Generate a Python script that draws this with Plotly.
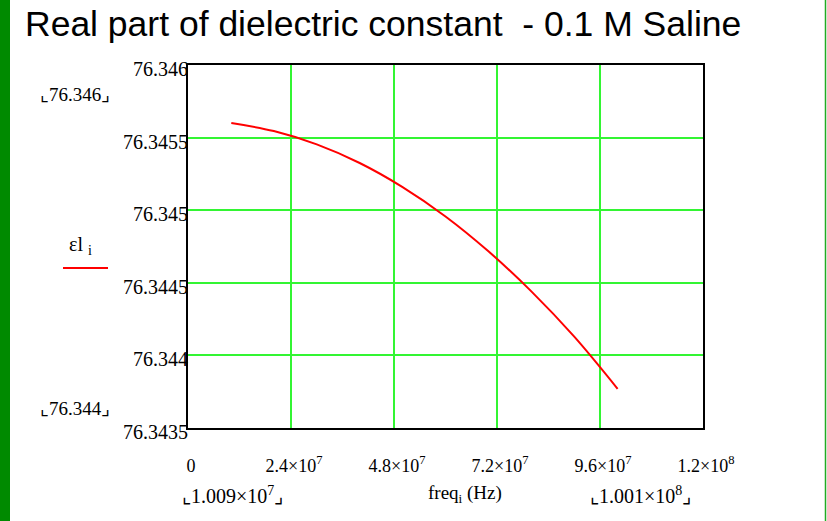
import plotly.graph_objects as go

# Data
freq = [1.009e7, 2.0e7, 3.0e7, 4.0e7, 5.0e7, 6.0e7, 7.0e7, 8.0e7, 9.0e7, 1.001e8]
eps1 = [76.345600, 76.345545, 76.345453, 76.345325, 76.345159,
        76.344957, 76.344717, 76.344441, 76.344129, 76.343770]

x_tickvals = [0, 2.4e7, 4.8e7, 7.2e7, 9.6e7, 1.2e8]
x_ticktext = ["0", "2.4×10<sup>7</sup>", "4.8×10<sup>7</sup>", "7.2×10<sup>7</sup>",
              "9.6×10<sup>7</sup>", "1.2×10<sup>8</sup>"]
y_tickvals = [76.3435, 76.344, 76.3445, 76.345, 76.3455, 76.346]
y_ticktext = ["76.3435", "76.344", "76.3445", "76.345", "76.3455", "76.346"]

title_text = "Real part of dielectric constant  - 0.1 M Saline"
serif = "Liberation Serif, Times New Roman, serif"
sans = "Liberation Sans, Arial, sans-serif"

W, H = 827, 521
L, R, T, B = 188, 124, 65, 93
pw, ph = W - L - R, H - T - B

def px(x):
    return (x - L) / pw

def py(y):
    return (H - B - y) / ph

fig = go.Figure()
fig.add_trace(go.Scatter(x=freq, y=eps1, mode="lines", line=dict(color="#ff0000", width=2, shape="spline"),
                         showlegend=False, hoverinfo="skip"))

grid_col = "#33f533"
fig.update_xaxes(range=[0, 1.2e8], tickvals=x_tickvals, ticktext=x_ticktext,
                 showgrid=True, gridcolor=grid_col, gridwidth=1.6,
                 showline=True, linecolor="black", linewidth=2, mirror=True,
                 zeroline=False, ticks="", ticklabelstandoff=20, ticklabelshift=3,
                 tickfont=dict(family=serif, size=18, color="black"))
fig.update_yaxes(range=[76.3435, 76.346], tickvals=y_tickvals, ticktext=y_ticktext,
                 showgrid=True, gridcolor=grid_col, gridwidth=1.6,
                 showline=True, linecolor="black", linewidth=2, mirror=True,
                 zeroline=False, ticks="", ticklabelstandoff=-6, ticklabelshift=4,
                 tickfont=dict(family=serif, size=20, color="black"))

annotations = [
    dict(text=title_text, x=px(23), y=py(24), xref="paper", yref="paper", xanchor="left", yanchor="middle",
         showarrow=False, font=dict(family=sans, size=35.5, color="black")),
    dict(text="⌞76.346⌟", x=px(75), y=py(95), xref="paper", yref="paper", xanchor="center", yanchor="middle",
         showarrow=False, font=dict(family=serif, size=19, color="black")),
    dict(text="⌞76.344⌟", x=px(75), y=py(408), xref="paper", yref="paper", xanchor="center", yanchor="middle",
         showarrow=False, font=dict(family=serif, size=19, color="black")),
    dict(text="εl <sub>i</sub>", x=px(80), y=py(245), xref="paper", yref="paper", xanchor="center", yanchor="middle",
         showarrow=False, font=dict(family=serif, size=20, color="black")),
    dict(text="⌞1.009×10<sup>7</sup>⌟", x=px(232), y=py(495), xref="paper", yref="paper", xanchor="center", yanchor="middle",
         showarrow=False, font=dict(family=serif, size=20, color="black")),
    dict(text="freq<sub>i</sub> (Hz)", x=px(465), y=py(494), xref="paper", yref="paper", xanchor="center", yanchor="middle",
         showarrow=False, font=dict(family=serif, size=19, color="black")),
    dict(text="⌞1.001×10<sup>8</sup>⌟", x=px(640), y=py(495), xref="paper", yref="paper", xanchor="center", yanchor="middle",
         showarrow=False, font=dict(family=serif, size=20, color="black")),
]

shapes = [
    dict(type="rect", xref="paper", yref="paper", x0=px(0), x1=px(10), y0=py(0), y1=py(H),
         fillcolor="#008a00", line=dict(width=0), layer="above"),
    dict(type="line", xref="paper", yref="paper", x0=px(825.5), x1=px(825.5), y0=py(0), y1=py(H),
         line=dict(color="#22aa22", width=1.5)),
    dict(type="line", xref="paper", yref="paper", x0=px(63), x1=px(108), y0=py(268), y1=py(268),
         line=dict(color="#ff0000", width=2)),
]

fig.update_layout(width=W, height=H, margin=dict(l=L, r=R, t=T, b=B, pad=0),
                  paper_bgcolor="white", plot_bgcolor="white",
                  annotations=annotations, shapes=shapes, showlegend=False)

fig.write_html("out.html", config={"displayModeBar": False},
               post_script="document.body.style.margin='0';")
